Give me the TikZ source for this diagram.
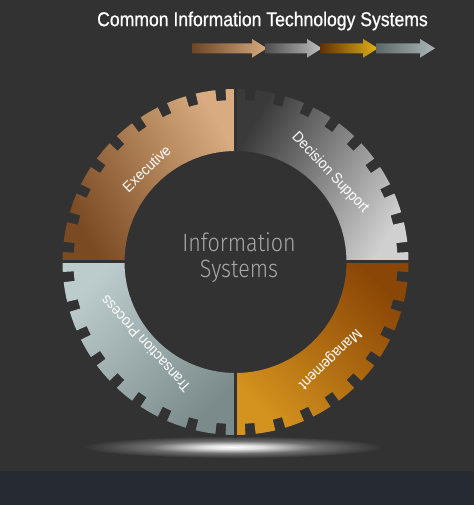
\documentclass[tikz,border=0pt]{standalone}
\usepackage{fontspec}
\setmainfont{Liberation Sans}
\newfontfamily\thinfont{Fira Sans Light}
\newfontfamily\titlefont[FakeBold=0.8]{Liberation Sans}
\usepackage{graphicx}
\definecolor{bg}{HTML}{323232}
\definecolor{barc}{HTML}{252A33}
\definecolor{exA}{HTML}{7A4A22}
\definecolor{exB}{HTML}{D8AB80}
\definecolor{dsA}{HTML}{3A3A3A}
\definecolor{dsB}{HTML}{D0D0D0}
\definecolor{mgA}{HTML}{D4921E}
\definecolor{mgB}{HTML}{8A4606}
\definecolor{tpA}{HTML}{BCCBCB}
\definecolor{tpB}{HTML}{7B8B8C}
\definecolor{ctext}{HTML}{A8A8A8}
\pgfdeclareradialshading{glow}{\pgfpoint{0bp}{0bp}}{color(0bp)=(white); color(5bp)=(white!85!bg); color(14bp)=(white!30!bg); color(25bp)=(bg); color(50bp)=(bg)}
\begin{document}
\begin{tikzpicture}[x=1pt,y=1pt,
  gearq/.style={insert path={
    ({#1}:111) -- ({#1}:173) arc[start angle=#1, end angle=#1+3.3, radius=173]
    \foreach \k [evaluate={\k as \c using #1+5+10*\k},
                 evaluate={\k as \e using min(#1+13.3+10*\k,#1+90)}] in {0,...,8} {
      -- ({\c-1.7}:162) arc[start angle=\c-1.7, end angle=\c+1.7, radius=162]
      -- ({\c+1.7}:173) arc[start angle=\c+1.7, end angle=\e, radius=173]
    }
    -- ({#1+90}:111) arc[start angle=#1+90, end angle=#1, radius=111] -- cycle}},
  lbl/.style={text=white, font=\fontsize{15}{16}\selectfont, inner sep=0pt},
  ctr/.style={text=ctext, font=\thinfont\fontsize{25}{28}\selectfont, anchor=base, inner sep=0pt},
  arrowshape/.style n args={3}{insert path={
    (#1,451.7) -- (#2-15,451.7) -- (#2-15,447.3) -- (#2,456.7) -- (#2-15,466.1)
    -- (#2-15,461.7) -- (#1,461.7) -- cycle}}
]
\useasboundingbox (0,0) rectangle (474,505);
\fill[bg] (0,0) rectangle (474,505);
% glow and bottom bar
\shade[shading=glow] (233,58) ellipse[x radius=150, y radius=11];
\fill[barc] (0,0) rectangle (474,34);
% title
\node[text=white, font=\titlefont\fontsize{20}{24}\selectfont, inner sep=0pt] (title) at (262.5,484)
  {\scalebox{0.88}[1]{Common Information Technology Systems}};
% arrows
\shade[left color=exA!80!bg, right color=exB] [arrowshape={192}{267}{}];
\shade[left color=dsA!90!white, right color=dsB!92!black] [arrowshape={265}{322}{}];
\shade[left color=mgB!70!black, right color=mgA!70!yellow] [arrowshape={320}{378}{}];
\shade[left color=tpB!60!bg, right color=tpA!90!black] [arrowshape={376}{435}{}];
% ring
\begin{scope}[shift={(235.5,243)}]
  \shade[bottom color=exA, top color=exB, shading angle=-60] [gearq=90];
  \shade[bottom color=dsA, top color=dsB, shading angle=-120] [gearq=0];
  \shade[bottom color=mgA, top color=mgB, shading angle=-45] [gearq=270];
  \shade[bottom color=tpA, top color=tpB, shading angle=-135] [gearq=180];
  \draw[bg, line width=3pt] (0,105) -- (0,176);
  \draw[bg, line width=3pt] (0,-105) -- (0,-176);
  \draw[bg, line width=3pt] (105,0) -- (176,0);
  \draw[bg, line width=3pt] (-105,0) -- (-176,0);
  \node[lbl, rotate=43.6] (exe) at (133.6:129) {\scalebox{0.92}[1]{Executive}};
  \node[lbl, rotate=-46.7] (dss) at (43.3:130) {\scalebox{0.92}[1]{Decision Support}};
  \node[lbl, rotate=224] (mgt) at (-45.7:135) {\scalebox{0.92}[1]{Management}};
  \node[lbl, rotate=132.5] (tps) at (222.5:122) {\scalebox{0.92}[1]{Transaction Process}};
\end{scope}
% centre text
\node[ctr] (info) at (239,253) {\scalebox{0.86}[1]{Information}};
\node[ctr] (sys) at (239,227) {\scalebox{0.86}[1]{Systems}};
\end{tikzpicture}
\end{document}
